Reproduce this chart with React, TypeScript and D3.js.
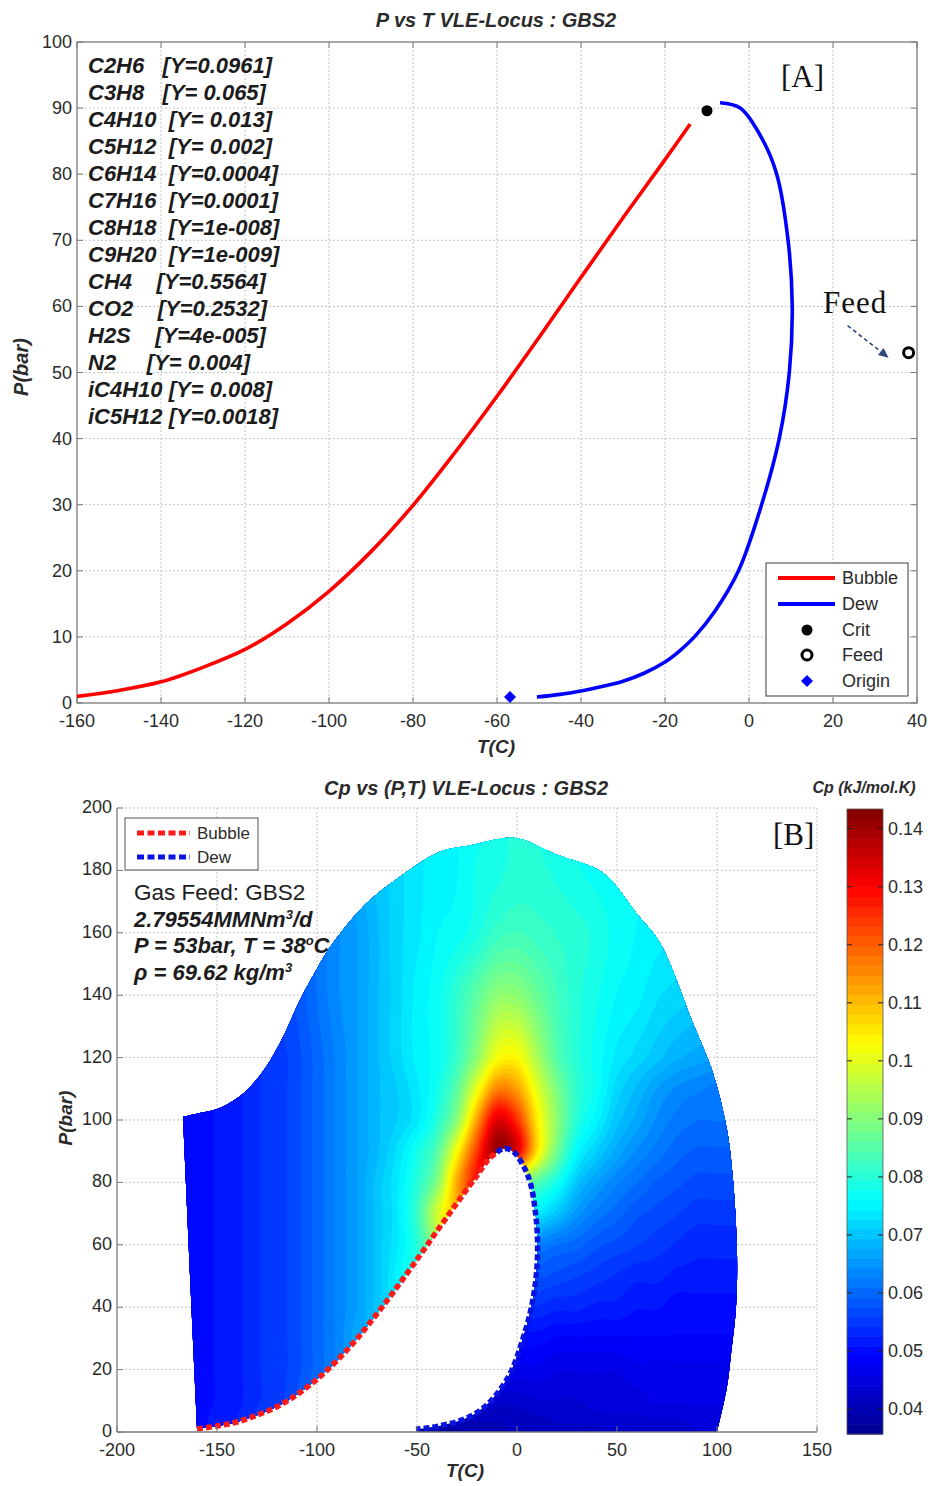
import React, { useMemo } from "react";
import * as d3 from "d3";

// ---------------- Panel A data ----------------
const componentNames = ["C2H6", "C3H8", "C4H10", "C5H12", "C6H14", "C7H16", "C8H18", "C9H20", "CH4", "CO2", "H2S", "N2", "iC4H10", "iC5H12"];
const moleFractionLabels = ["0.0961", " 0.065", " 0.013", " 0.002", "0.0004", "0.0001", "1e-008", "1e-009", "0.5564", "0.2532", "4e-005", " 0.004", " 0.008", "0.0018"];

const bubbleT = [-160, -150, -140, -130, -120, -110, -100, -90, -80, -70, -60, -50, -40, -30, -20, -14];
const bubbleP = [1.0, 1.9, 3.2, 5.4, 8.1, 12.0, 16.9, 22.9, 29.9, 37.9, 46.4, 55.3, 64.4, 73.4, 82.2, 87.6];
const dewT = [-50.5, -45, -40, -35, -30, -25, -20, -16.5, -13, -8, -2.5, 3, 7.2, 9.6, 10.3, 9.3, 6.6, 3, -2.1, -6.9];
const dewP = [0.9, 1.3, 1.8, 2.5, 3.3, 4.5, 6.2, 7.9, 10, 14, 20, 30, 40, 50, 60, 70, 80, 85.5, 90, 90.8];
const critPoint = [-10, 89.6];
const feedPoint = [38, 53];
const originPoint = [-56.9, 0.9];

const xTicksA = [-160, -140, -120, -100, -80, -60, -40, -20, 0, 20, 40];
const yTicksA = [0, 10, 20, 30, 40, 50, 60, 70, 80, 90, 100];

// ---------------- Panel B data ----------------
const envelopeT = [-160, -163.5, -167, -158, -150, -140, -133.5, -125, -117, -108.5, -100, -92, -75, -58.5, -38.5, -23.5, -1, 20, 43, 60, 71.5, 88, 98, 105, 108, 110, 109.5, 107, 105, 100];
const envelopeP = [1, 50, 101, 102.3, 103.5, 107, 110.6, 117.5, 126.6, 138.5, 148.5, 156.7, 169.6, 178, 186, 188, 190.4, 185, 179.2, 166, 156.7, 131, 115, 96.8, 80.8, 57.4, 40, 25, 14.5, 0];

const cpGridT = [-170, -160, -150, -140, -130, -120, -110, -100, -90, -80, -70, -60, -50, -40, -30, -20, -10, 0, 10, 20, 30, 40, 50, 60, 70, 80, 90, 100, 110];
const cpGridP = [0, 10, 20, 30, 40, 50, 60, 70, 80, 90, 100, 110, 120, 140, 160, 180, 200];
const cpGrid = [
  [.050, .050, .052, .053, .055, .057, .059, .061, .063, .065, .045, .040, .037, .038, .039, .040, .040, .041, .041, .042, .042, .042, .043, .043, .043, .043, .044, .044, .044],
  [.049, .050, .051, .052, .054, .055, .058, .061, .063, .066, .050, .042, .039, .040, .041, .043, .043, .043, .044, .044, .044, .045, .045, .045, .046, .046, .046, .046, .046],
  [.049, .050, .051, .052, .054, .055, .057, .060, .063, .066, .069, .060, .048, .045, .046, .046, .047, .047, .047, .046, .046, .046, .046, .047, .047, .047, .047, .047, .047],
  [.049, .050, .051, .052, .054, .055, .057, .060, .063, .067, .069, .072, .070, .060, .052, .050, .050, .050, .050, .049, .049, .049, .049, .049, .049, .049, .049, .049, .049],
  [.049, .050, .051, .052, .054, .055, .057, .060, .063, .066, .070, .074, .078, .070, .060, .056, .055, .054, .054, .053, .053, .052, .052, .051, .051, .050, .050, .050, .050],
  [.049, .050, .051, .052, .054, .055, .057, .060, .063, .066, .070, .075, .080, .082, .070, .065, .060, .058, .058, .057, .056, .055, .054, .053, .053, .052, .052, .052, .052],
  [.049, .050, .051, .052, .054, .055, .057, .060, .063, .066, .070, .074, .080, .092, .098, .085, .072, .065, .063, .061, .060, .058, .057, .056, .055, .054, .053, .053, .053],
  [.049, .050, .051, .052, .054, .055, .057, .060, .063, .066, .070, .074, .082, .098, .110, .115, .090, .078, .074, .070, .065, .062, .060, .058, .057, .056, .055, .055, .055],
  [.049, .050, .051, .052, .054, .055, .057, .060, .063, .066, .070, .074, .080, .090, .112, .128, .130, .095, .085, .078, .070, .066, .063, .061, .059, .058, .057, .057, .057],
  [.049, .050, .051, .052, .054, .055, .057, .060, .063, .066, .069, .073, .078, .085, .103, .124, .141, .132, .106, .088, .076, .071, .067, .064, .062, .060, .059, .059, .059],
  [.049, .050, .051, .052, .054, .055, .057, .060, .063, .066, .069, .071, .074, .080, .091, .113, .133, .125, .105, .091, .080, .075, .070, .067, .064, .062, .061, .061, .061],
  [.049, .050, .051, .052, .054, .055, .057, .060, .063, .066, .069, .071, .074, .078, .086, .101, .116, .113, .100, .089, .081, .077, .072, .069, .066, .064, .063, .062, .062],
  [.050, .050, .051, .052, .054, .055, .057, .060, .063, .066, .069, .072, .075, .077, .082, .091, .102, .103, .094, .085, .080, .077, .074, .072, .070, .068, .067, .066, .066],
  [.050, .050, .051, .052, .054, .056, .058, .061, .064, .066, .069, .072, .075, .077, .081, .086, .091, .091, .087, .083, .080, .078, .076, .075, .073, .072, .071, .071, .071],
  [.050, .050, .051, .052, .054, .056, .058, .061, .064, .066, .069, .072, .074, .076, .077, .079, .082, .083, .082, .081, .080, .079, .077, .076, .075, .074, .074, .074, .074],
  [.050, .050, .051, .052, .054, .056, .058, .062, .064, .067, .070, .072, .074, .075, .076, .078, .079, .080, .080, .079, .078, .077, .076, .076, .075, .075, .075, .075, .075],
  [.050, .050, .051, .052, .054, .056, .058, .062, .064, .067, .070, .072, .074, .075, .076, .077, .079, .080, .079, .078, .077, .076, .076, .075, .075, .075, .075, .075, .075],
];
const CP_MIN = 0.0357;
const CP_MAX = 0.1434;

const xTicksB = [-200, -150, -100, -50, 0, 50, 100, 150];
const yTicksB = [0, 20, 40, 60, 80, 100, 120, 140, 160, 180, 200];
const cpTicks = [0.04, 0.05, 0.06, 0.07, 0.08, 0.09, 0.1, 0.11, 0.12, 0.13, 0.14];

const JET_STOPS = ["#00008f", "#0000ff", "#00ffff", "#ffff00", "#ff0000", "#800000"];

const FONT = "'Liberation Sans', Arial, Helvetica, sans-serif";
const SERIF = "'Liberation Serif', 'Times New Roman', serif";
const GRID = "#c4c4c4";
const AXIS = "#7a7a7a";
const TXT = "#2b2b2b";

const clamp = (v: number, a: number, b: number) => Math.max(a, Math.min(b, v));

function fracIndex(grid: number[], v: number): [number, number] {
  const k = clamp(d3.bisectRight(grid, v) - 1, 0, grid.length - 2);
  const f = clamp((v - grid[k]) / (grid[k + 1] - grid[k]), 0, 1);
  return [k, f];
}

function cubic(p0: number, p1: number, p2: number, p3: number, t: number) {
  return p1 + 0.5 * t * (p2 - p0 + t * (2 * p0 - 5 * p1 + 4 * p2 - p3 + t * (3 * (p1 - p2) + p3 - p0)));
}

// smooth (Catmull-Rom) resampling of the read-off Cp grid
function sampleCp(T: number, P: number): number {
  const [i, t] = fracIndex(cpGridT, T);
  const [j, u] = fracIndex(cpGridP, P);
  const nI = cpGridT.length - 1, nJ = cpGridP.length - 1;
  const ci = (k: number) => clamp(k, 0, nI);
  const cj = (k: number) => clamp(k, 0, nJ);
  const rowAt = (jj: number) => {
    const r = cpGrid[cj(jj)];
    return cubic(r[ci(i - 1)], r[ci(i)], r[ci(i + 1)], r[ci(i + 2)], t);
  };
  return cubic(rowAt(j - 1), rowAt(j), rowAt(j + 1), rowAt(j + 2), u);
}

export default function App() {
  const xA = d3.scaleLinear().domain([-160, 40]).range([77, 917]);
  const yA = d3.scaleLinear().domain([0, 100]).range([703, 42]);
  const xB = d3.scaleLinear().domain([-200, 150]).range([117, 817]);
  const yB = d3.scaleLinear().domain([0, 200]).range([1432, 808]);
  const cY = d3.scaleLinear().domain([CP_MIN, CP_MAX]).range([1434, 809]);
  const jet = d3.scaleLinear<string>().domain([0, 0.125, 0.375, 0.625, 0.875, 1]).range(JET_STOPS).interpolate(d3.interpolateRgb).clamp(true);
  const nLevels = 64;
  const levelColor = (k: number) => jet((k + 0.5) / nLevels);

  const bubble = bubbleT.map((t, i) => [t, bubbleP[i]]);
  const dew = dewT.map((t, i) => [t, dewP[i]]);
  const envelope = envelopeT.map((t, i) => [t, envelopeP[i]]);

  const smooth = d3.curveCatmullRom.alpha(0.5);
  const lineA = d3.line<number[]>().x(d => xA(d[0])).y(d => yA(d[1])).curve(smooth);
  const lineCurveB = d3.line<number[]>().x(d => xB(d[0])).y(d => yB(d[1])).curve(smooth);
  const lineB = d3.line<number[]>().x(d => xB(d[0])).y(d => yB(d[1]));

  const bubbleB = [...bubble, critPoint];
  const dewB = [critPoint, ...dew.slice().reverse()];
  const asCont = (s: string | null) => (s || "").replace(/^M/, "L");
  const regionPath =
    (lineB(envelope.slice(0, 3)) || "") +
    asCont(lineCurveB(envelope.slice(2))) +
    asCont(lineB([envelope[envelope.length - 1], [dewT[0], 0]])) +
    asCont(lineCurveB([...dew, critPoint, ...bubble.slice().reverse()])) +
    "Z";

  const heat = useMemo(() => {
    const t0 = -170, dT = 1, nT = 281, p0 = 0, dP = 0.5, nP = 401;
    const values = new Array(nT * nP);
    for (let j = 0; j < nP; j++) {
      for (let i = 0; i < nT; i++) {
        values[i + j * nT] = sampleCp(t0 + i * dT, p0 + j * dP);
      }
    }
    const thresholds = d3.range(nLevels).map(k => CP_MIN + (k * (CP_MAX - CP_MIN)) / nLevels);
    const contours = d3.contours().size([nT, nP]).thresholds(thresholds)(values);
    const proj = d3.geoTransform({
      point(x: number, y: number) {
        (this as any).stream.point(xB(t0 + (x - 0.5) * dT), yB(p0 + (y - 0.5) * dP));
      },
    });
    const gp = d3.geoPath(proj);
    return contours.map((c, k) => ({ d: gp(c as any) || "", color: levelColor(k) }));
  }, []);

  const aL = xA(-160), aR = xA(40), aT = yA(100), aB = yA(0);
  const bL = xB(-200), bR = xB(150), bT = yB(200), bBot = yB(0);

  const feedPx = [xA(feedPoint[0]), yA(feedPoint[1])];
  const arrowTip = [feedPx[0] - 20, feedPx[1] + 5];
  const arrowStart = [arrowTip[0] - 41, arrowTip[1] - 32];
  const dir = [arrowTip[0] - arrowStart[0], arrowTip[1] - arrowStart[1]];
  const dl = Math.hypot(dir[0], dir[1]);
  const ux = dir[0] / dl, uy = dir[1] / dl;
  const headBase = [arrowTip[0] - 10 * ux, arrowTip[1] - 10 * uy];
  const arrowHead = `M${arrowTip[0]},${arrowTip[1]} L${headBase[0] - 4.5 * uy},${headBase[1] + 4.5 * ux} L${headBase[0] + 4.5 * uy},${headBase[1] - 4.5 * ux} Z`;

  const diamond = (cx: number, cy: number, r: number) => `M${cx},${cy - r} L${cx + r},${cy} L${cx},${cy + r} L${cx - r},${cy} Z`;

  const legendA = { x: 766, y: 563, w: 142, h: 133 };
  const legendRows = [578, 604, 630, 655, 681];

  const cbX = 847, cbW = 36;
  const cbLevels = d3.range(nLevels);

  return (
    <svg width={930} height={1486} style={{ position: "absolute", left: 0, top: 0, display: "block" }} fontFamily={FONT}>
      <rect x={0} y={0} width={930} height={1486} fill="#fff" />

      {/* ================= PANEL A ================= */}
      <text x={496} y={27} fontSize={20} fontWeight="bold" fontStyle="italic" textAnchor="middle" fill={TXT}>P vs T VLE-Locus : GBS2</text>
      {xTicksA.slice(1, -1).map(t => (
        <line key={"gax" + t} x1={xA(t)} x2={xA(t)} y1={aT} y2={aB} stroke={GRID} strokeWidth={1} strokeDasharray="2,2" />
      ))}
      {yTicksA.slice(1, -1).map(p => (
        <line key={"gay" + p} x1={aL} x2={aR} y1={yA(p)} y2={yA(p)} stroke={GRID} strokeWidth={1} strokeDasharray="2,2" />
      ))}
      <rect x={aL} y={aT} width={aR - aL} height={aB - aT} fill="none" stroke={AXIS} strokeWidth={1.3} />
      {xTicksA.map(t => (
        <g key={"tax" + t}>
          <line x1={xA(t)} x2={xA(t)} y1={aB} y2={aB - 6} stroke={AXIS} />
          <line x1={xA(t)} x2={xA(t)} y1={aT} y2={aT + 6} stroke={AXIS} />
          <text x={xA(t)} y={727} fontSize={18} textAnchor="middle" fill={TXT}>{t}</text>
        </g>
      ))}
      {yTicksA.map(p => (
        <g key={"tay" + p}>
          <line x1={aL} x2={aL + 6} y1={yA(p)} y2={yA(p)} stroke={AXIS} />
          <line x1={aR} x2={aR - 6} y1={yA(p)} y2={yA(p)} stroke={AXIS} />
          <text x={72} y={yA(p) + 6} fontSize={18} textAnchor="end" fill={TXT}>{p}</text>
        </g>
      ))}
      <text transform="translate(28,367) rotate(-90)" fontSize={20} fontWeight="bold" fontStyle="italic" textAnchor="middle" fill={TXT}>P(bar)</text>
      <text x={496} y={753} fontSize={19} fontWeight="bold" fontStyle="italic" textAnchor="middle" fill={TXT}>T(C)</text>

      <path d={lineA(bubble) || ""} fill="none" stroke="#ff0000" strokeWidth={3.6} />
      <path d={lineA(dew) || ""} fill="none" stroke="#0000ff" strokeWidth={3.6} />
      <circle cx={xA(critPoint[0])} cy={yA(critPoint[1])} r={5.5} fill="#000" />
      <circle cx={feedPx[0]} cy={feedPx[1]} r={5} fill="#fff" stroke="#000" strokeWidth={3} />
      <path d={diamond(xA(originPoint[0]), yA(originPoint[1]), 6)} fill="#0000ff" />

      {componentNames.map((n, i) => (
        <text key={n} x={88} y={73 + 27 * i} fontSize={22} fontWeight="bold" fontStyle="italic" fill="#1c1c1c" xmlSpace="preserve" style={{ whiteSpace: "pre" }}>
          {n.padEnd(6, " ") + " [Y=" + moleFractionLabels[i] + "]"}
        </text>
      ))}

      <text x={781} y={87} fontSize={31} fontFamily={SERIF} fill="#111">[A]</text>
      <text x={823} y={313} fontSize={31} letterSpacing={1} fontFamily={SERIF} fill="#111">Feed</text>
      <line x1={arrowStart[0]} y1={arrowStart[1]} x2={headBase[0]} y2={headBase[1]} stroke="#2c4a78" strokeWidth={1.6} strokeDasharray="4,3" />
      <path d={arrowHead} fill="#2c4a78" />

      <rect x={legendA.x} y={legendA.y} width={legendA.w} height={legendA.h} fill="#fff" stroke="#3a3a3a" strokeWidth={1} />
      <line x1={778} x2={835} y1={legendRows[0]} y2={legendRows[0]} stroke="#ff0000" strokeWidth={4} />
      <line x1={778} x2={835} y1={legendRows[1]} y2={legendRows[1]} stroke="#0000ff" strokeWidth={4} />
      <circle cx={807} cy={legendRows[2]} r={5.5} fill="#000" />
      <circle cx={807} cy={legendRows[3]} r={5} fill="#fff" stroke="#000" strokeWidth={3} />
      <path d={diamond(807, legendRows[4], 6)} fill="#0000ff" />
      {["Bubble", "Dew", "Crit", "Feed", "Origin"].map((s, i) => (
        <text key={s} x={842} y={legendRows[i] + 6} fontSize={18} fill={TXT}>{s}</text>
      ))}

      {/* ================= PANEL B ================= */}
      <text x={466} y={795} fontSize={20} fontWeight="bold" fontStyle="italic" textAnchor="middle" fill={TXT}>Cp vs (P,T) VLE-Locus : GBS2</text>
      <text x={864} y={793} fontSize={16} fontWeight="bold" fontStyle="italic" textAnchor="middle" fill={TXT}>Cp (kJ/mol.K)</text>

      {xTicksB.slice(1).map(t => (
        <line key={"gbx" + t} x1={xB(t)} x2={xB(t)} y1={bT} y2={bBot} stroke={GRID} strokeWidth={1} strokeDasharray="2,2" />
      ))}
      {yTicksB.slice(1).map(p => (
        <line key={"gby" + p} x1={bL} x2={bR} y1={yB(p)} y2={yB(p)} stroke={GRID} strokeWidth={1} strokeDasharray="2,2" />
      ))}

      <defs>
        <clipPath id="cpRegion">
          <path d={regionPath} />
        </clipPath>
      </defs>
      <g clipPath="url(#cpRegion)">
        {heat.map((h, k) => (
          <path key={"hc" + k} d={h.d} fill={h.color} stroke="none" fillRule="evenodd" />
        ))}
      </g>

      <path d={lineCurveB(bubbleB) || ""} fill="none" stroke="#ff1a1a" strokeWidth={5.5} strokeDasharray="6,3" />
      <path d={lineCurveB(dewB) || ""} fill="none" stroke="#0a14e0" strokeWidth={5.5} strokeDasharray="6,3" />

      <line x1={bL} x2={bL} y1={bT} y2={bBot} stroke={AXIS} strokeWidth={1.3} />
      <line x1={bL} x2={bR} y1={bBot} y2={bBot} stroke={AXIS} strokeWidth={1.3} />
      {xTicksB.map(t => (
        <g key={"tbx" + t}>
          <line x1={xB(t)} x2={xB(t)} y1={bBot} y2={bBot - 6} stroke={AXIS} />
          <text x={xB(t)} y={1456} fontSize={18} textAnchor="middle" fill={TXT}>{t}</text>
        </g>
      ))}
      {yTicksB.map(p => (
        <g key={"tby" + p}>
          <line x1={bL} x2={bL + 6} y1={yB(p)} y2={yB(p)} stroke={AXIS} />
          <text x={112} y={yB(p) + 5} fontSize={18} textAnchor="end" fill={TXT}>{p}</text>
        </g>
      ))}
      <text transform="translate(72,1118) rotate(-90)" fontSize={19} fontWeight="bold" fontStyle="italic" textAnchor="middle" fill={TXT}>P(bar)</text>
      <text x={465} y={1477} fontSize={19} fontWeight="bold" fontStyle="italic" textAnchor="middle" fill={TXT}>T(C)</text>

      <rect x={125} y={818} width={133} height={52} fill="#fff" stroke="#555" strokeWidth={1} />
      <line x1={137} x2={190} y1={833} y2={833} stroke="#ff1a1a" strokeWidth={5} strokeDasharray="7,3.5" />
      <line x1={137} x2={190} y1={857} y2={857} stroke="#0a14e0" strokeWidth={5} strokeDasharray="7,3.5" />
      <text x={197} y={839} fontSize={17} fill={TXT}>Bubble</text>
      <text x={197} y={863} fontSize={17} fill={TXT}>Dew</text>

      <text x={134} y={900} fontSize={22.5} fill="#1c1c1c">Gas Feed: GBS2</text>
      <text x={134} y={927} fontSize={22} fontStyle="italic" fontWeight="bold" fill="#1c1c1c">
        2.79554MMNm<tspan dy={-8} fontSize={13}>3</tspan><tspan dy={8}>/d</tspan>
      </text>
      <text x={134} y={953} fontSize={22} fontStyle="italic" fontWeight="bold" fill="#1c1c1c">
        P = 53bar, T = 38<tspan dy={-8} fontSize={13}>o</tspan><tspan dy={8}>C</tspan>
      </text>
      <text x={134} y={980} fontSize={22} fontStyle="italic" fontWeight="bold" fill="#1c1c1c">
        ρ = 69.62 kg/m<tspan dy={-8} fontSize={13}>3</tspan>
      </text>

      <text x={773} y={845} fontSize={31} fontFamily={SERIF} fill="#111">[B]</text>

      {cbLevels.map(k => {
        const v0 = CP_MIN + (k * (CP_MAX - CP_MIN)) / nLevels;
        const v1 = CP_MIN + ((k + 1) * (CP_MAX - CP_MIN)) / nLevels;
        return <rect key={"cb" + k} x={cbX} y={cY(v1)} width={cbW} height={cY(v0) - cY(v1) + 0.6} fill={levelColor(k)} />;
      })}
      <rect x={cbX} y={cY(CP_MAX)} width={cbW} height={cY(CP_MIN) - cY(CP_MAX)} fill="none" stroke="#555" strokeWidth={0.8} />
      {cpTicks.map(v => (
        <g key={"cbt" + v}>
          <line x1={cbX} x2={cbX + 5} y1={cY(v)} y2={cY(v)} stroke="#222" />
          <line x1={cbX + cbW} x2={cbX + cbW - 5} y1={cY(v)} y2={cY(v)} stroke="#222" />
          <text x={888} y={cY(v) + 6} fontSize={18} fill={TXT}>{String(+v.toFixed(2))}</text>
        </g>
      ))}
    </svg>
  );
}
